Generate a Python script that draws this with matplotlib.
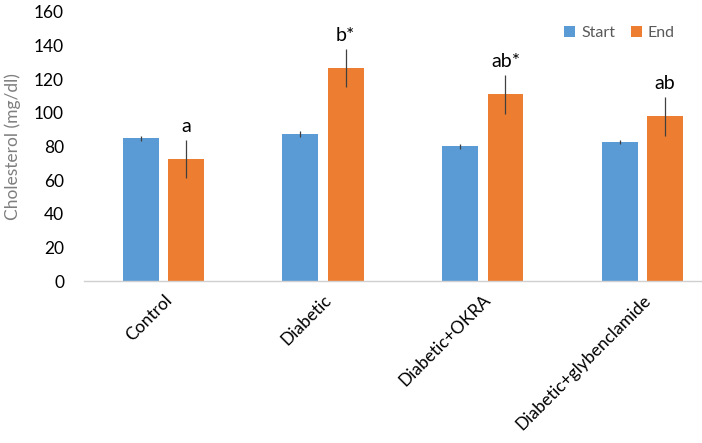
import numpy as np
import matplotlib
matplotlib.use("Agg")
import matplotlib.pyplot as plt

plt.rcParams['font.family'] = ['Lato', 'DejaVu Sans']

groups = ["Control", "Diabetic", "Diabetic+OKRA", "Diabetic+glybenclamide"]
start = [84.7, 87.5, 80.0, 82.4]
start_err = [1.3, 1.7, 1.3, 1.3]
end = [72.3, 126.7, 110.9, 97.8]
end_err = [11.4, 11.4, 11.4, 11.6]
letters = ["a", "b*", "ab*", "ab"]

blue = "#5B9BD5"
orange = "#ED7D31"

fig = plt.figure(figsize=(7.02, 4.43), dpi=100)
ax = fig.add_axes([0.119, 162 / 443, 0.91, 269.3 / 443])

x = np.arange(len(groups))
w = 0.225
off = 0.142
ax.bar(x - off, start, w, color=blue, label="Start",
       yerr=start_err, error_kw=dict(ecolor="#404040", elinewidth=0.9, capsize=0))
ax.bar(x + off, end, w, color=orange, label="End",
       yerr=end_err, error_kw=dict(ecolor="#404040", elinewidth=0.9, capsize=0))

for i in range(len(groups)):
    ax.text(x[i] + off, end[i] + end_err[i] + 8, letters[i], ha="center", va="center",
            fontsize=14, color="black")

ax.set_xlim(-0.5, 3.5)
ax.set_ylim(0, 160)
ax.set_yticks(np.arange(0, 161, 20))
ax.set_xticks(x)
ax.set_xticklabels(groups, rotation=45, ha="right", rotation_mode="anchor",
                   fontsize=12.5, color="black")
ax.tick_params(axis="y", length=0, labelsize=12.5, pad=14, labelcolor="black")
ax.tick_params(axis="x", length=0, pad=8)

for s in ["top", "right", "left"]:
    ax.spines[s].set_visible(False)
ax.spines["bottom"].set_color("#d0d0d0")
ax.spines["bottom"].set_linewidth(1.0)

ax.set_ylabel("Cholesterol (mg/dl)", color="#7f7f7f", fontsize=12.5, labelpad=9)

ax.legend(loc="upper left", bbox_to_anchor=(0.73, 1.0), ncol=2, frameon=False,
          fontsize=11.5, handlelength=0.7, handleheight=0.7, handletextpad=0.35,
          columnspacing=1.0, labelcolor="#595959")

fig.savefig("out.png", dpi=100)
